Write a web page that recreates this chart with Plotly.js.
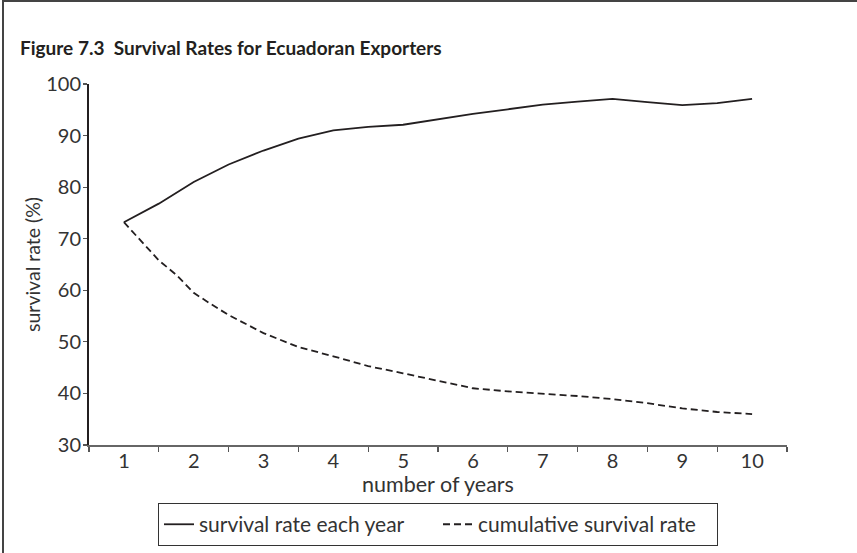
<!DOCTYPE html>
<html>
<head>
<meta charset="utf-8">
<script src="https://cdn.plot.ly/plotly-3.0.1.min.js"></script>
<style>
  html, body { margin: 0; padding: 0; background: #fff; }
  #wrap { position: relative; width: 857px; height: 553px; }
  #chart { position: absolute; left: 0; top: 0; width: 857px; height: 553px; }
  #frame { position: absolute; left: 2px; top: 0; width: 855px; height: 553px;
           border-top: 2px solid #444; border-left: 2px solid #444; box-sizing: border-box; pointer-events: none; }
</style>
</head>
<body>
<div id="wrap">
  <div id="chart"></div>
  <div id="frame"></div>
</div>
<script>
// Category labels (years)
var years = [1, 2, 3, 4, 5, 6, 7, 8, 9, 10];

// Readings along the curves (half-year steps)
var eachYearX = [1, 1.5, 2, 2.5, 3, 3.5, 4, 4.5, 5, 5.5, 6, 6.5, 7, 7.5, 8, 8.5, 9, 9.5, 10];
var eachYearY = [73.2, 76.8, 81.0, 84.4, 87.1, 89.4, 91.0, 91.7, 92.1, 93.2, 94.2, 95.1, 96.0, 96.6, 97.1, 96.5, 95.9, 96.3, 97.1];

var cumulativeX = [1, 1.25, 1.5, 1.75, 2, 2.25, 2.5, 3, 3.5, 4, 4.5, 5, 5.5, 6, 6.5, 7, 7.5, 8, 8.5, 9, 9.5, 10];
var cumulativeY = [73.2, 69.4, 65.8, 63.0, 59.5, 57.3, 55.2, 51.7, 49.0, 47.2, 45.3, 43.9, 42.5, 41.0, 40.4, 40.0, 39.5, 38.9, 38.1, 37.1, 36.4, 36.0];

var seriesNames = ['survival rate each year', 'cumulative survival rate'];
var yTicks = [30, 40, 50, 60, 70, 80, 90, 100];

var font = 'Lato, "Open Sans", sans-serif';

var tickVals = years.map(function (v) { return v - 0.5; }).concat([years[years.length - 1] + 0.5]);
var tickText = years.map(String).concat(['']);

var traces = [
  { x: eachYearX, y: eachYearY, name: seriesNames[0], type: 'scatter', mode: 'lines',
    line: { color: '#231f20', width: 1.8 } },
  { x: cumulativeX, y: cumulativeY, name: seriesNames[1], type: 'scatter', mode: 'lines',
    line: { color: '#231f20', width: 1.8, dash: '7px,4px' } }
];

var layout = {
  width: 857, height: 553,
  margin: { l: 89, r: 70, t: 84, b: 107.5, pad: 0, autoexpand: false },
  paper_bgcolor: '#fff', plot_bgcolor: '#fff',
  font: { family: font, color: '#333', size: 20 },
  showlegend: true,
  title: { text: '<b>Figure 7.3  Survival Rates for Ecuadoran Exporters</b>', x: 20 / 857, xanchor: 'left',
           y: 1 - 48 / 553, yanchor: 'middle', xref: 'container', yref: 'container',
           font: { family: font, size: 19, color: '#231f20' } },
  xaxis: {
    range: [0.5, 10.5], tickmode: 'array', tickvals: tickVals, ticktext: tickText,
    ticklabelshift: 35, ticklabelstandoff: -8, ticks: 'outside', ticklen: 5, tickwidth: 1.2, tickcolor: '#555',
    showline: true, linecolor: '#666', linewidth: 1.5, showgrid: false, zeroline: false,
    tickfont: { size: 20, color: '#333' },
    title: { text: 'number of years', font: { size: 21.5, color: '#333' }, standoff: 0 },
    fixedrange: true
  },
  yaxis: {
    range: [30, 100], tickmode: 'array', tickvals: yTicks, ticks: 'outside', ticklen: 4,
    tickwidth: 1.2, tickcolor: '#555', showline: true, linecolor: '#231f20', linewidth: 2,
    showgrid: false, zeroline: false, tickfont: { size: 20, color: '#333' },
    ticklabelstandoff: -2,
    title: { text: 'survival rate (%)', font: { size: 19.5, color: '#333' }, standoff: 0 },
    fixedrange: true
  },
  legend: {
    orientation: 'h', x: 0.5, xanchor: 'center', y: -0.161, yanchor: 'top',
    bordercolor: '#333', borderwidth: 1, bgcolor: '#fff',
    font: { size: 21, color: '#333' }, itemwidth: 30, tracegroupgap: 0,
    entrywidth: 234, entrywidthmode: 'pixels'
  }
};

Plotly.newPlot('chart', traces, layout, { displayModeBar: false, staticPlot: true });
</script>
</body>
</html>
